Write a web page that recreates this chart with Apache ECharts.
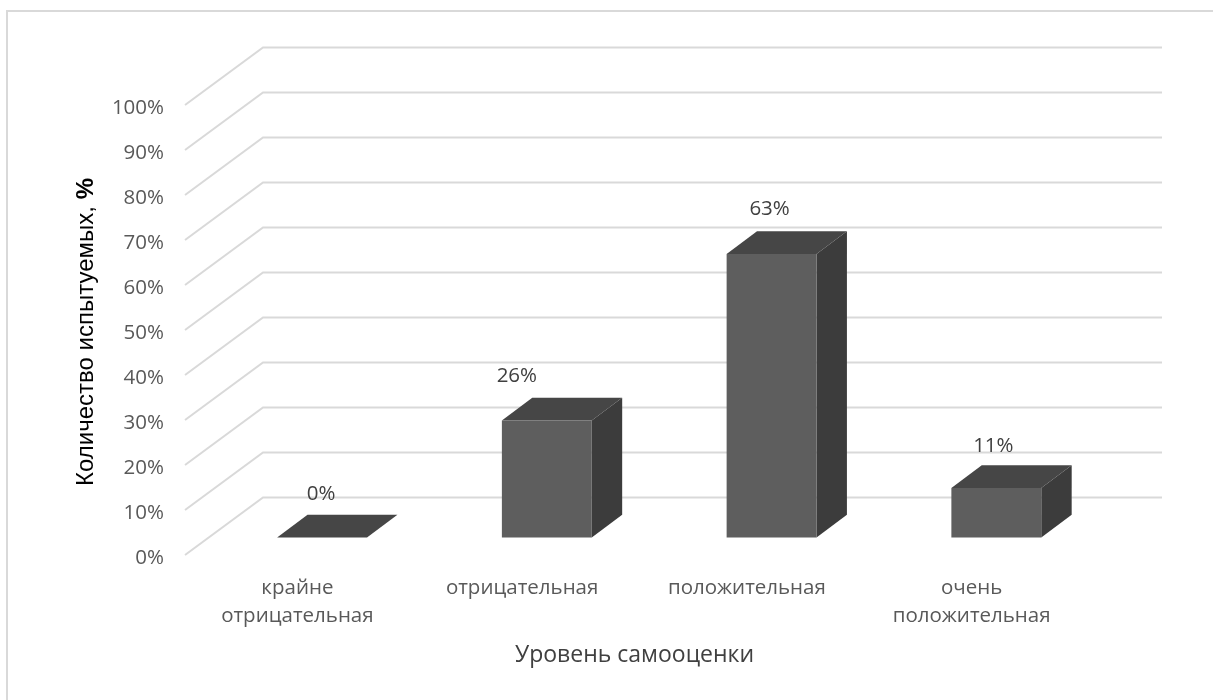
<!DOCTYPE html>
<html>
<head>
<meta charset="utf-8">
<style>html,body{margin:0;padding:0;background:#fff}#c{width:1213px;height:700px}</style>
<script src="https://cdn.jsdelivr.net/npm/echarts@6/dist/echarts.min.js"></script>
</head>
<body>
<div id="c"></div>
<script>
// Self-esteem survey results
const categories = ['крайне\nотрицательная', 'отрицательная', 'положительная', 'очень\nположительная'];
const shares = [0, 26, 63, 11];
const axisTicks = [0, 10, 20, 30, 40, 50, 60, 70, 80, 90, 100];
const xTitle = 'Уровень самооценки';
const yTitleText = 'Количество испытуемых, ';
const yTitleUnit = '%';

// Oblique projection of the box walls and of each column
const wallDepth = [78, -57.5];
const barInset = [24.7, -17.5];
const barDepth = [30.4, -22.8];
const labelNudgeX = [-1, -30, -2, -3];
const labelNudgeY = [1.5, 0, 0, 3];
const FONT = '"Open Sans", sans-serif';
const TITLE_FONT = '"Liberation Sans", Arial, sans-serif';

const chart = echarts.init(document.getElementById('c'), null, { renderer: 'canvas' });

function renderWall(params, api) {
  const v = api.value(0);
  const cs = params.coordSys;
  const p = api.coord([0, v]);
  const x0 = cs.x, x1 = cs.x + cs.width;
  return {
    type: 'polyline',
    silent: true,
    shape: { points: [[x0, p[1]], [x0 + wallDepth[0], p[1] + wallDepth[1]], [x1 + wallDepth[0], p[1] + wallDepth[1]]] },
    style: { stroke: '#d9d9d9', lineWidth: 2, fill: null }
  };
}

function renderBar(params, api) {
  const i = api.value(0);
  const c = api.coord([i, api.value(1)]);
  const base = api.coord([i, 0]);
  const w = api.size([1, 0])[0] * 0.4;
  const l = c[0] - w / 2 + barInset[0];
  const r = l + w;
  const t = c[1] + barInset[1];
  const b = base[1] + barInset[1];
  const dx = barDepth[0], dy = barDepth[1];
  const children = [
    { type: 'polygon', shape: { points: [[r, b], [r + dx, b + dy], [r + dx, t + dy], [r, t]] }, style: { fill: '#3c3c3c' } },
    { type: 'polygon', shape: { points: [[l, t], [l + dx, t + dy], [r + dx, t + dy], [r, t]] }, style: { fill: '#464646' } },
    { type: 'rect', shape: { x: l, y: t, width: w, height: b - t }, style: { fill: '#5e5e5e' } },
    {
      type: 'text',
      style: {
        x: (l + r) / 2 + labelNudgeX[params.dataIndex],
        y: t + dy - 22 + labelNudgeY[params.dataIndex],
        text: api.value(1) + '%',
        fill: '#404040',
        font: '20.5px ' + FONT,
        align: 'center',
        verticalAlign: 'middle'
      }
    }
  ];
  return { type: 'group', children };
}

chart.setOption({
  animation: false,
  backgroundColor: '#fff',
  graphic: [{
    type: 'rect', silent: true, z: -1,
    shape: { x: 7, y: 11, width: 1400, height: 1000 },
    style: { fill: '#fff', stroke: '#d9d9d9', lineWidth: 2 }
  }],
  grid: { left: 185, right: 129, top: 105, bottom: 145, containLabel: false },
  xAxis: {
    type: 'category',
    data: categories,
    axisLine: { show: false },
    axisTick: { show: false },
    axisLabel: { color: '#595959', fontFamily: FONT, fontSize: 20.5, lineHeight: 28, margin: 19, interval: 0 },
    name: xTitle,
    nameLocation: 'middle',
    nameGap: 89,
    nameTextStyle: { color: '#404040', fontFamily: FONT, fontSize: 23 }
  },
  yAxis: {
    type: 'value',
    min: 0,
    max: 100,
    interval: 10,
    splitLine: { show: false },
    axisLine: { show: false },
    axisTick: { show: false },
    axisLabel: {
      margin: 21,
      formatter: v => '{n|' + v + '%}',
      rich: {
        n: { color: '#595959', fontFamily: FONT, fontSize: 20.5, padding: [7, 0, 0, 0] }
      }
    },
    name: '{t|' + yTitleText + '}{u|' + yTitleUnit + '}',
    nameLocation: 'middle',
    nameGap: 87,
    nameTextStyle: {
      padding: [0, 4, 0, 0],
      rich: {
        t: { color: '#000', fontFamily: TITLE_FONT, fontSize: 24 },
        u: { color: '#000', fontFamily: TITLE_FONT, fontSize: 24, fontWeight: 'bold' }
      }
    }
  },
  series: [
    { type: 'custom', name: 'walls', renderItem: renderWall, data: axisTicks.map(v => [v]), encode: { y: 0 }, z: 1, silent: true },
    { type: 'custom', name: 'shares', renderItem: renderBar, data: shares.map((v, i) => [i, v]), encode: { x: 0, y: 1 }, z: 2, silent: true }
  ]
});
</script>
</body>
</html>
